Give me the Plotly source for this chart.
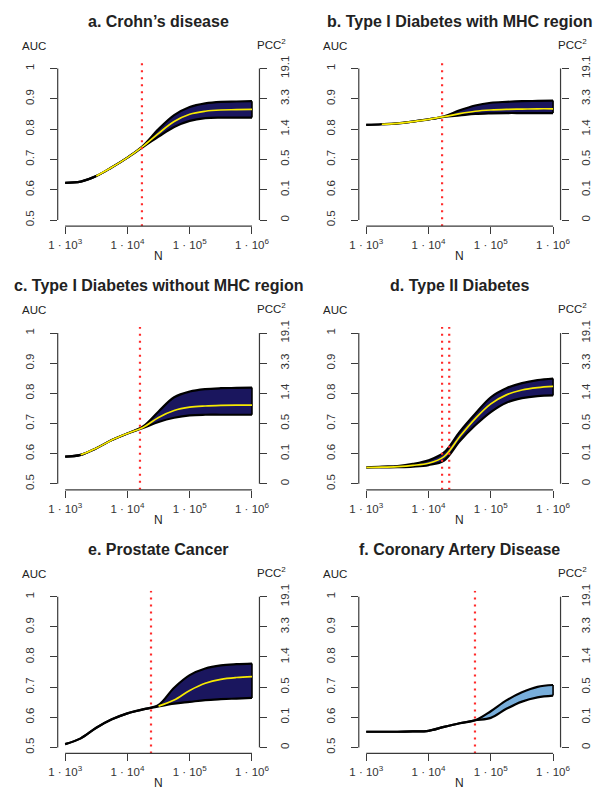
import plotly.graph_objects as go

W, H = 596, 790

# ---------------- data ----------------
log10_N = [3.0, 3.25, 3.5, 3.75, 4.0, 4.25, 4.5, 4.75, 5.0, 5.25, 5.5, 5.75, 6.0]

titles = ["a. Crohn\u2019s disease",
          "b. Type I Diabetes with MHC region",
          "c. Type I Diabetes without MHC region",
          "d. Type II Diabetes",
          "e. Prostate Cancer",
          "f. Coronary Artery Disease"]

upper_a = [.623, .627, .645, .674, .706, .745, .800, .846, .873, .885, .890, .891, .892]
mid_a   = [None, None, .645, .674, .706, .743, .786, .825, .849, .859, .863, .864, .865]
lower_a = [.623, .627, .645, .674, .706, .741, .775, .807, .827, .836, .838, .838, .838]
cut_a = [17100]

upper_b = [.814, .816, .819, .825, .832, .842, .862, .878, .887, .890, .892, .893, .894]
mid_b   = [None, .816, .819, .825, .832, .841, .851, .859, .863, .865, .866, .867, .867]
lower_b = [.814, .816, .819, .825, .832, .840, .845, .850, .852, .853, .853, .853, .853]
cut_b = [16500]

upper_c = [.590, .596, .618, .645, .667, .690, .740, .787, .806, .814, .817, .818, .819]
mid_c   = [None, .596, .618, .645, .667, .687, .720, .743, .754, .758, .760, .761, .761]
lower_c = [.590, .596, .618, .645, .667, .685, .705, .719, .727, .729, .729, .729, .729]
cut_c = [15900]

upper_d = [.554, .557, .559, .566, .578, .604, .672, .732, .787, .817, .834, .844, .849]
mid_d   = [.554, .555, .557, .561, .568, .590, .656, .716, .765, .795, .811, .819, .823]
lower_d = [.554, .554, .555, .557, .562, .577, .641, .694, .738, .769, .784, .791, .793]
cut_d = [16500, 21500]

upper_e = [.511, .530, .565, .593, .613, .626, .641, .698, .740, .762, .772, .776, .778]
mid_e   = [None, None, None, None, None, None, .637, .657, .689, .713, .726, .732, .735]
lower_e = [.511, .530, .565, .593, .613, .626, .636, .645, .651, .657, .660, .662, .664]
cut_e = [23900]

upper_f = [.552, .552, .552, .553, .555, .568, .580, .590, .620, .656, .683, .701, .707]
lower_f = [.552, .552, .552, .553, .555, .568, .580, .590, .598, .628, .652, .666, .672]
cut_f = [55700]

auc_ticks = [0.5, 0.6, 0.7, 0.8, 0.9, 1.0]
auc_labels = ["0.5", "0.6", "0.7", "0.8", "0.9", "1"]
pcc_labels = ["0", "0.1", "0.5", "1.4", "3.3", "19.1"]
x_tick_N = [1e3, 1e4, 1e5, 1e6]
x_tick_labels = ["1 \u00b7 10<sup>3</sup>", "1 \u00b7 10<sup>4</sup>",
                 "1 \u00b7 10<sup>5</sup>", "1 \u00b7 10<sup>6</sup>"]

# ---------------- styling ----------------
NAVY = "#1a165e"
LIGHTBLUE = "#78aedb"
YELLOW = "#f7ea00"
RED = "#ff2b2b"
AX = "#3a3a3a"
FONT = "Liberation Sans, Arial, Helvetica, sans-serif"

panels = [
    dict(up=upper_a, mid=mid_a, lo=lower_a, cut=cut_a, fill=NAVY),
    dict(up=upper_b, mid=mid_b, lo=lower_b, cut=cut_b, fill=NAVY),
    dict(up=upper_c, mid=mid_c, lo=lower_c, cut=cut_c, fill=NAVY),
    dict(up=upper_d, mid=mid_d, lo=lower_d, cut=cut_d, fill=NAVY),
    dict(up=upper_e, mid=mid_e, lo=lower_e, cut=cut_e, fill=NAVY),
    dict(up=upper_f, mid=None, lo=lower_f, cut=cut_f, fill=LIGHTBLUE),
]

N = [10 ** v for v in log10_N]
xr = [2.88, 6.12]
yr = [0.48, 1.02]
fx0 = (3 - xr[0]) / (xr[1] - xr[0])
fx1 = (6 - xr[0]) / (xr[1] - xr[0])
fy0 = (0.5 - yr[0]) / (yr[1] - yr[0])
fy1 = (1.0 - yr[0]) / (yr[1] - yr[0])

col_px = [(50.3, 258.7), (361.3, 569.7)]
row_px = [(55.9, 221.1), (322.9, 487.1), (588.9, 753.1)]

fig = go.Figure()
layout = dict(
    width=W, height=H, margin=dict(l=0, r=0, t=0, b=0),
    paper_bgcolor="white", plot_bgcolor="white", showlegend=False,
    font=dict(family=FONT, size=11, color="#333"),
)
shapes = []
annotations = []

def axname(prefix, n):
    return prefix if n == 1 else f"{prefix}{n}"

SPL = dict(shape="spline", smoothing=1.0)

for i, p in enumerate(panels):
    n = i + 1
    r, c = i // 2, i % 2
    xa, ya, yr2 = axname("x", n), axname("y", n), f"y{n + 6}"
    x0p, x1p = col_px[c]
    y0p, y1p = row_px[r]

    common_ticks = dict(ticks="outside", ticklen=7, tickwidth=1.1, tickcolor=AX,
                        showline=False, showgrid=False, zeroline=False,
                        tickfont=dict(family=FONT, size=11.5, color="#333"))
    layout["xaxis" if n == 1 else f"xaxis{n}"] = dict(
        domain=[x0p / W, x1p / W], type="log", range=xr, anchor=ya,
        tickmode="array", tickvals=x_tick_N, ticktext=x_tick_labels,
        ticklabelstandoff=1, **common_ticks)
    layout["yaxis" if n == 1 else f"yaxis{n}"] = dict(
        domain=[1 - y1p / H, 1 - y0p / H], range=yr, anchor=xa,
        tickmode="array", tickvals=auc_ticks, ticktext=auc_labels,
        tickangle=-90, ticklabelstandoff=11, **common_ticks)
    layout[f"yaxis{n + 6}"] = dict(
        overlaying=ya, side="right", range=yr, anchor=xa,
        tickmode="array", tickvals=auc_ticks, ticktext=pcc_labels,
        tickangle=-90, ticklabelstandoff=8, **common_ticks)

    # band: lower edge, upper edge filled to lower
    fig.add_trace(go.Scatter(x=N, y=p["lo"], xaxis=xa, yaxis=ya, mode="lines",
                             line=dict(color="black", width=2.2, **SPL),
                             hoverinfo="skip"))
    fig.add_trace(go.Scatter(x=N, y=p["up"], xaxis=xa, yaxis=ya, mode="lines",
                             fill="tonexty", fillcolor=p["fill"],
                             line=dict(color="black", width=2.2, **SPL),
                             hoverinfo="skip"))
    fig.add_trace(go.Scatter(x=[N[-1], N[-1]], y=[p["lo"][-1], p["up"][-1]],
                             xaxis=xa, yaxis=ya, mode="lines",
                             line=dict(color="black", width=1.6), hoverinfo="skip"))
    if p["mid"] is not None:
        fig.add_trace(go.Scatter(x=N, y=p["mid"], xaxis=xa, yaxis=ya, mode="lines",
                                 line=dict(color=YELLOW, width=1.7, **SPL),
                                 connectgaps=False, hoverinfo="skip"))
    for cval in p["cut"]:
        fig.add_trace(go.Scatter(x=[cval, cval], y=yr, xaxis=xa, yaxis=ya, mode="lines",
                                 line=dict(color=RED, width=2.2, dash="2px,5px"),
                                 hoverinfo="skip"))
    # invisible trace so right axis is drawn
    fig.add_trace(go.Scatter(x=[N[0]], y=[0.75], xaxis=xa, yaxis=yr2, mode="markers",
                             marker=dict(opacity=0), hoverinfo="skip"))

    # R-style axis lines spanning first to last tick
    for (sx0, sx1, sy0, sy1) in [(fx0, fx1, 0, 0), (0, 0, fy0, fy1), (1, 1, fy0, fy1)]:
        shapes.append(dict(type="line", xref=f"{xa} domain", yref=f"{ya} domain",
                           x0=sx0, x1=sx1, y0=sy0, y1=sy1,
                           line=dict(color=AX, width=1.2)))

    cx = (x0p + x1p) / 2
    # title
    annotations.append(dict(text=f"<b>{titles[i]}</b>", x=cx / W, y=1 - (15 + 266 * r) / H,
                            xref="paper", yref="paper", showarrow=False,
                            xanchor="center", yanchor="middle",
                            font=dict(family=FONT, size=16, color="#222")))
    # AUC / PCC2 labels
    annotations.append(dict(text="AUC", x=(26 + 311 * c) / W, y=1 - (39 + 266.5 * r) / H,
                            xref="paper", yref="paper", showarrow=False,
                            xanchor="center", yanchor="middle",
                            font=dict(family=FONT, size=11.5, color="#222")))
    annotations.append(dict(text="PCC<sup>2</sup>", x=(271 + 311 * c) / W,
                            y=1 - (37 + 266.5 * r) / H,
                            xref="paper", yref="paper", showarrow=False,
                            xanchor="center", yanchor="middle",
                            font=dict(family=FONT, size=11.5, color="#222")))
    # N label
    annotations.append(dict(text="N", x=cx / W, y=1 - (y1p + 30) / H,
                            xref="paper", yref="paper", showarrow=False,
                            xanchor="center", yanchor="middle",
                            font=dict(family=FONT, size=12, color="#222")))

layout["shapes"] = shapes
layout["annotations"] = annotations
fig.update_layout(**layout)
fig.write_html("out.html")
